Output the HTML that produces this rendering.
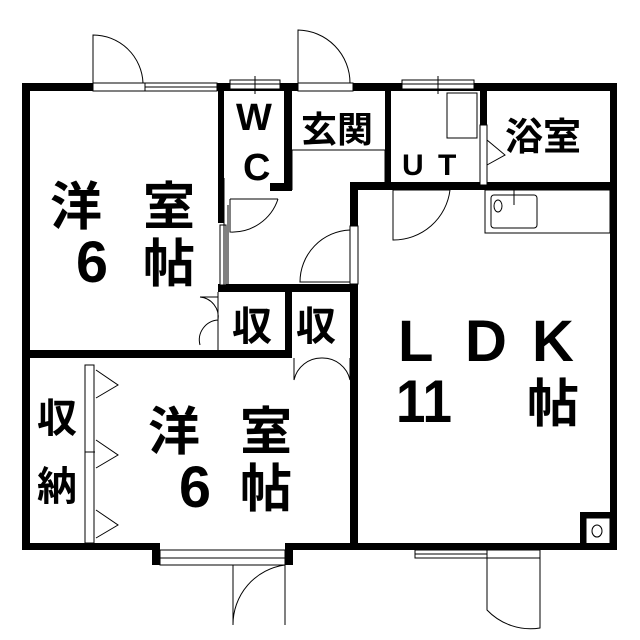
<!DOCTYPE html>
<html><head><meta charset="utf-8"><style>
html,body{margin:0;padding:0;background:#fff;}
svg{display:block}
text{font-family:"Liberation Sans","Noto Sans CJK JP",sans-serif;fill:#000;font-weight:bold;}
</style></head><body>
<svg width="640" height="640" viewBox="0 0 640 640" xmlns="http://www.w3.org/2000/svg">
<rect width="640" height="640" fill="#fff"/>
<g fill="#000">
<rect x="22" y="83" width="595" height="8"/>
<rect x="22" y="83" width="8" height="467"/>
<rect x="610" y="83" width="7" height="467"/>
<rect x="22" y="543" width="138" height="7"/>
<rect x="152" y="543" width="8" height="22"/>
<rect x="285" y="543" width="8" height="22"/>
<rect x="285" y="543" width="332" height="7"/>
<rect x="218" y="83" width="6" height="140"/>
<rect x="218" y="284" width="140" height="8"/>
<rect x="22" y="350" width="270" height="8"/>
<rect x="285" y="284" width="7" height="74"/>
<rect x="284" y="83" width="8" height="108"/>
<rect x="270" y="183" width="22" height="8"/>
<rect x="350" y="182" width="267" height="8"/>
<rect x="350" y="182" width="8" height="44"/>
<rect x="350" y="284" width="8" height="260"/>
<rect x="385" y="83" width="6" height="107"/>
<rect x="480" y="83" width="7" height="42"/>
<rect x="580" y="512" width="30" height="6"/>
<rect x="580" y="512" width="6" height="38"/>
</g>
<g fill="#fff" stroke="#000" stroke-width="1">
<rect x="93" y="83" width="52" height="8"/>
<rect x="145" y="83" width="72" height="8"/>
<rect x="230" y="80" width="50" height="9"/>
<rect x="298" y="83" width="55" height="8"/>
<rect x="402" y="80" width="72" height="9"/>
<rect x="160" y="550" width="125" height="8"/>
<rect x="160" y="558" width="125" height="7"/>
<rect x="415" y="550" width="125" height="8"/>
<rect x="350" y="226" width="8" height="58"/>
<rect x="220" y="225" width="6" height="60"/>
<rect x="480" y="125" width="7" height="60"/>
<rect x="85" y="365" width="9" height="178"/>
</g>
<g fill="none" stroke="#000" stroke-width="1">
<path d="M93 83 V35 A50 50 0 0 1 143 83"/>
<path d="M298 83 V30 A53 53 0 0 1 350 83"/>
<path d="M145 87 H217"/>
<path d="M255 76 V94 M402 84 H474 M438 76 V94 M230 84 H280"/>
<rect x="447" y="93" width="30" height="45"/>
<path d="M487 140 L505 155 L487 165"/>
<path d="M292 150 H385 M292 190 V150 M385 150 V190"/>
<path d="M230 199 H278 M230 199 V232 A48 48 0 0 0 278 199"/>
<path d="M393 190 H450 M393 190 V240 A57 57 0 0 0 450 190"/>
<path d="M350 230 A52 52 0 0 0 300 282 H350"/>
<path d="M224 178 V290 M228 205 V290"/>
<path d="M218 292 V350 M200 297 H218 M200 297 A20 20 0 0 1 218 320 A20 20 0 0 0 200 345"/>
<path d="M294 358 V380 A28 28 0 0 1 322 358 A28 28 0 0 1 350 380 V358"/>
<path d="M96 370 L118 385 L96 398 M96 440 L118 455 L96 468 M96 510 L118 525 L96 538 M85 452 H95"/>
<path d="M233 565 V625 A60 60 0 0 1 285 565 V625"/>
<path d="M487 550 V610 A60 60 0 0 0 540 628 V550"/>
<path d="M415 554 H487"/>
<rect x="485" y="190" width="125" height="43"/>
<rect x="491" y="195" width="46" height="33" rx="3"/>
<ellipse cx="498" cy="206" rx="4" ry="6"/>
<path d="M514 190 V205"/>
<rect x="586" y="518" width="24" height="26"/>
<ellipse cx="597" cy="531" rx="5" ry="6"/>
<path d="M353 410 V540"/>
</g>
<g font-size="52">
<text x="50" y="225">洋</text><text x="143" y="225">室</text>
<text x="76" y="282" font-size="58" textLength="32" lengthAdjust="spacingAndGlyphs">6</text><text x="143" y="282">帖</text>
<text x="148" y="450">洋</text><text x="240" y="450">室</text>
<text x="179" y="507" font-size="58" textLength="32" lengthAdjust="spacingAndGlyphs">6</text><text x="240" y="507">帖</text>
<text x="398" y="361" font-size="58">L</text><text x="465" y="361" font-size="58">D</text><text x="532" y="361" font-size="58">K</text>
<text x="396" y="422" font-size="60" textLength="56" lengthAdjust="spacingAndGlyphs">11</text><text x="527" y="422">帖</text>
</g>
<g font-size="38">
<text x="236" y="130">W</text><text x="243" y="180">C</text>
<text x="301" y="142" font-size="36">玄関</text>
<text x="505" y="150" font-size="38">浴室</text>
<text x="232" y="340" font-size="40">収</text><text x="296" y="340" font-size="40">収</text>
<text x="37" y="432" font-size="40">収</text><text x="37" y="500" font-size="40">納</text>
</g>
<text x="402" y="175" font-size="30">U</text><text x="438" y="175" font-size="30">T</text>
</svg>
</body></html>
